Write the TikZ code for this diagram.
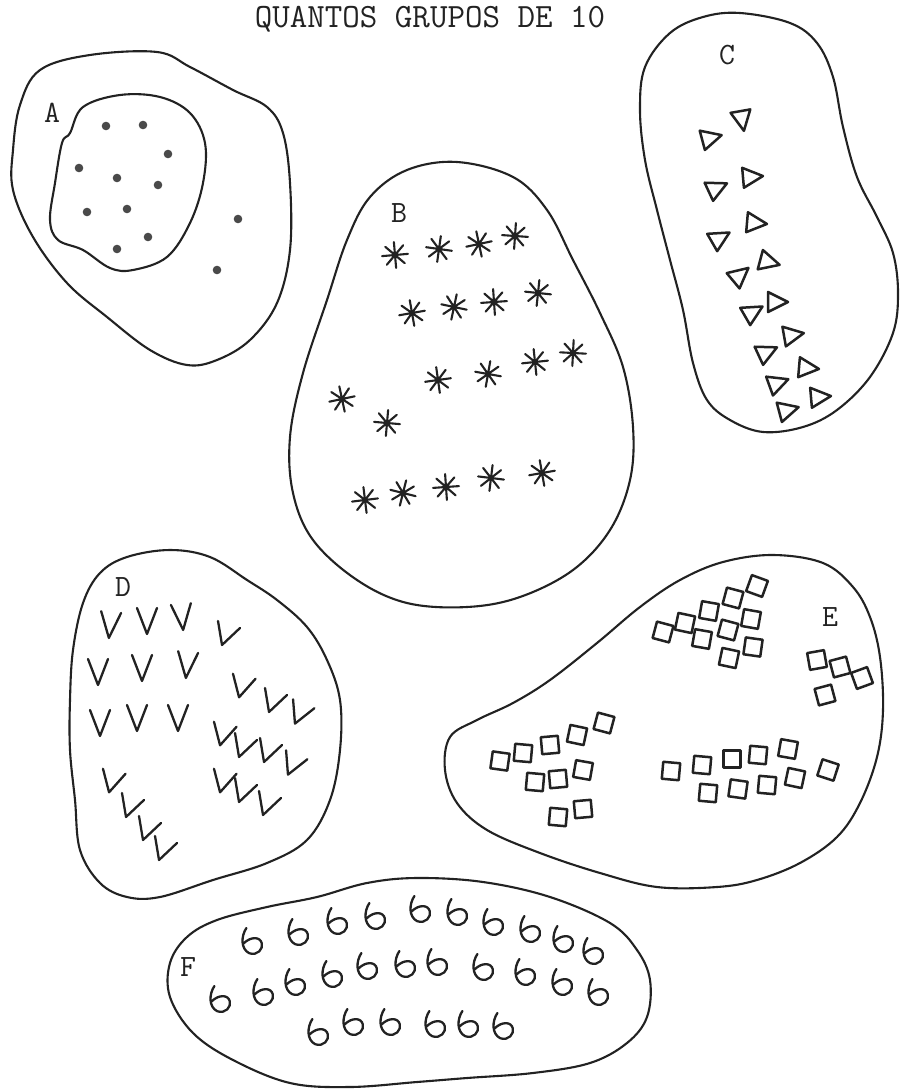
\documentclass[tikz,border=0pt]{standalone}
\usetikzlibrary{calc}
\definecolor{ink}{HTML}{222222}
\definecolor{dotc}{HTML}{4A4A4A}
\tikzset{
  boundary/.style={draw=ink, line width=2.1pt, line join=round},
  glyph/.style={draw=ink, line width=2.3pt, line join=round, line cap=round},
  lbl/.style={font=\ttfamily\fontsize{31}{31}\selectfont, text=ink, inner sep=0pt},
  pics/ast/.style={code={
    \draw[glyph, line width=2.1pt] (-13,0)--(13,0) (0,-13)--(0,13) (-9,-9)--(9,9) (-9,9)--(9,-9);}},
  pics/tri/.style={code={
    \draw[glyph, line width=2.5pt] (-9,-10)--(-9,10)--(11,0)--cycle;}},
  pics/vee/.style={code={
    \draw[glyph] (-10,-13)--(0,13)--(10,-13);}},
  pics/chk/.style={code={
    \draw[glyph] (-8,-12)--(-4,12)--(14,-5);}},
  pics/sq/.style={code={
    \draw[glyph, line width=2.5pt] (-8.5,-8.5) rectangle (8.5,8.5);}},
  pics/curl/.style={code={
    \draw[glyph, scale=1.4] (-4,-10) .. controls (-8,-4) and (-8,5) .. (-2,8) .. controls (4,10) and (8,5) .. (7,1) .. controls (6,-4) and (-1,-4) .. (-6,1);}},
}
\begin{document}
\begin{tikzpicture}[x=1pt,y=-1pt]
\useasboundingbox (0,0) rectangle (899,1091);
\fill[white] (0,0) rectangle (899,1091);

% title
\node[font=\ttfamily\fontsize{34}{34}\selectfont, text=ink, anchor=base, inner sep=0pt] (title) at (430,28) {QUANTOS GRUPOS DE 10};

% ---------- A ----------
\draw[boundary] plot[smooth cycle, tension=0.6] coordinates {
 (157,52) (190,67) (233,90) (267,107) (283,133) (290,183) (290,250) (277,303)
 (250,340) (217,360) (187,365) (150,350) (107,317) (67,283) (33,237) (13,190)
 (13,150) (20,105) (40,70) (90,55)};
\draw[boundary] plot[smooth cycle, tension=0.6] coordinates {
 (120,95) (160,97) (190,113) (205,143) (203,183) (190,223) (167,257) (133,270)
 (110,268) (83,250) (58,240) (50,220) (55,183) (62,143) (70,133) (83,107)};
\node[lbl] (la) at (52,113) {A};
\foreach \p in {(106,126),(143,125),(168,154),(79,168),(117,178),(158,185),(87,212),(127,209),(148,237),(117,249),(238,219),(217,270)}
  \fill[dotc] \p circle (4.3);

% ---------- B ----------
\draw[boundary] plot[smooth cycle, tension=0.6] coordinates {
 (457,162) (513,177) (547,210) (573,260) (600,313) (623,367) (633,427) (630,480)
 (610,530) (573,570) (520,597) (467,607) (407,603) (357,580) (313,540) (293,493)
 (290,437) (303,373) (327,300) (347,240) (370,197) (407,170)};
\node[lbl] (lb) at (399,213) {B};
\foreach \p/\r in {(395,255)/5,(439,249)/-8,(479,244)/12,(515,236)/-4,
  (412,313)/10,(454,307)/-12,(494,302)/4,(538,293)/-6,
  (438,380)/8,(488,374)/-10,(535,362)/6,(573,353)/-3,
  (342,399)/12,(387,423)/-5,
  (365,500)/7,(403,493)/-14,(446,487)/4,(491,478)/-7,(542,473)/10}
  \pic[rotate=\r] at \p {ast};

% ---------- C ----------
\draw[boundary] plot[smooth cycle, tension=0.6] coordinates {
 (740,13) (790,23) (817,43) (833,77) (843,127) (857,177) (877,217) (893,253)
 (898,293) (893,333) (870,377) (837,410) (803,427) (763,432) (730,420) (707,400)
 (693,363) (683,310) (670,260) (657,210) (645,160) (640,110) (645,67) (670,33) (703,17)};
\node[lbl] (lc) at (727,55) {C};
\foreach \p/\r in {(711,138)/15,(742,120)/-80,(717,188)/25,(752,177)/5,
  (720,238)/30,(756,223)/-5,(740,275)/40,(769,262)/-15,
  (753,312)/30,(777,302)/0,(767,352)/25,(793,335)/10,
  (778,383)/20,(808,368)/-5,(788,410)/15,(820,397)/5}
  \pic[rotate=\r] at \p {tri};

% ---------- D ----------
\draw[boundary] plot[smooth cycle, tension=0.6] coordinates {
 (170,550) (210,557) (247,580) (277,600) (307,627) (327,660) (340,700) (340,750)
 (330,800) (307,840) (267,863) (213,880) (160,897) (127,897) (100,883) (80,850)
 (75,800) (70,750) (70,700) (73,650) (83,603) (100,573) (127,557)};
\node[lbl] (ld) at (123,587) {D};
\foreach \p/\r in {(110,625)/-5,(147,621)/0,(182,617)/5,(98,672)/0,(142,668)/0,(187,665)/-5,(100,723)/0,(137,718)/0,(178,718)/0}
  \pic[rotate=\r] at \p {vee};
\foreach \p/\r in {(226,633)/0,(242,685)/5,(273,700)/0,(300,712)/-5,
  (223,733)/5,(243,745)/0,(268,750)/0,(293,763)/-5,
  (223,780)/5,(243,790)/0,(267,803)/0,
  (112,780)/5,(130,805)/0,(147,828)/0,(163,848)/0}
  \pic[rotate=\r] at \p {chk};

% ---------- E ----------
\draw[boundary] plot[smooth cycle, tension=0.6] coordinates {
 (773,555) (823,563) (853,587) (870,617) (880,657) (883,710) (877,757) (860,803)
 (837,837) (800,863) (757,880) (717,887) (657,887) (600,873) (540,853) (487,830)
 (457,803) (445,770) (450,737) (477,720) (513,703) (550,680) (597,643) (640,607)
 (680,580) (723,562)};
\node[lbl] (le) at (830,617) {E};
\foreach \p/\r in {(663,632)/-15,(685,623)/-12,(709,611)/-10,(733,598)/-15,(757,586)/-20,
  (702,639)/-10,(728,630)/-15,(751,619)/-10,(729,658)/-12,(753,647)/-8,
  (817,660)/10,(840,667)/15,(862,678)/20,(825,695)/15,
  (500,761)/-8,(523,753)/-5,(550,745)/5,(577,735)/-12,(604,723)/-15,
  (535,782)/-5,(558,779)/5,(583,770)/-10,(558,817)/-5,(583,809)/5,
  (671,771)/-5,(702,765)/-5,(732,759)/0,(758,755)/-5,(788,749)/-10,
  (708,793)/-5,(738,789)/-8,(767,785)/-5,(795,778)/-12,(828,770)/-18}
  \pic[rotate=\r] at \p {sq};

% ---------- F ----------
\draw[boundary] plot[smooth cycle, tension=0.6] coordinates {
 (417,878) (483,882) (550,897) (610,923) (637,950) (650,980) (647,1017) (627,1043)
 (590,1063) (533,1073) (467,1078) (417,1082) (350,1087) (290,1083) (233,1060)
 (193,1033) (170,997) (170,963) (187,937) (217,920) (267,907) (317,897) (367,883)};
\node[lbl] (lf) at (188,967) {F};
\foreach \p in {(252,942),(298,933),(337,922),(375,917),(420,910),(457,913),(493,923),(530,930),(563,940),(593,952),
  (220,1000),(263,993),(295,983),(332,975),(367,967),(405,965),(437,963),(483,968),(525,973),(562,983),(598,993),
  (318,1033),(353,1023),(390,1023),(435,1025),(468,1025),(503,1027)}
  \pic at \p {curl};
\end{tikzpicture}
\end{document}
